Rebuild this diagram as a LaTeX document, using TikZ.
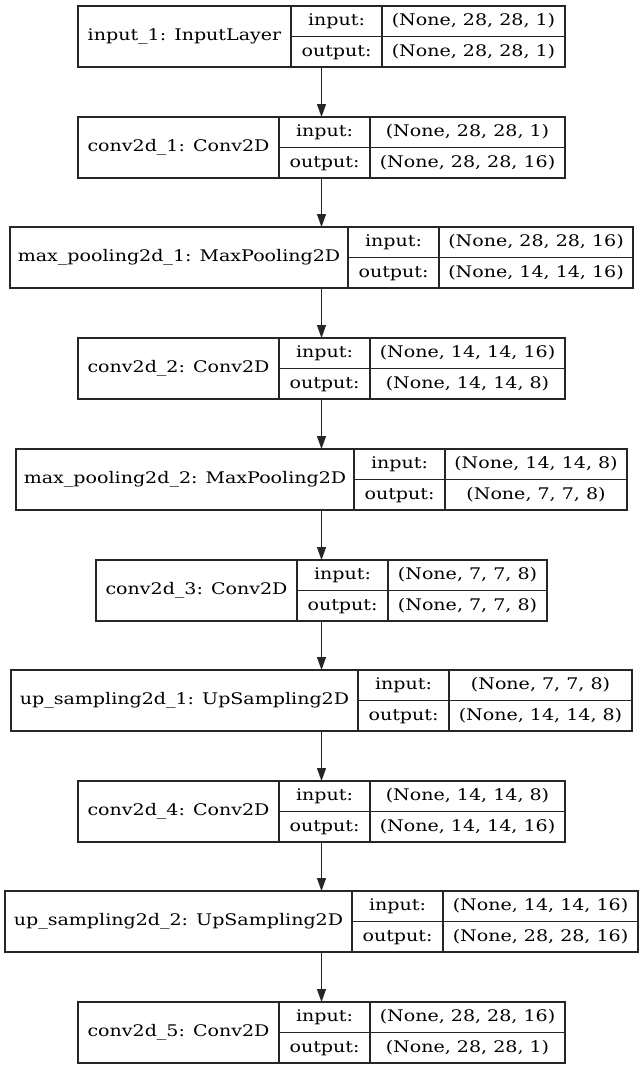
\documentclass[tikz,border=0pt]{standalone}
\usepackage{fontspec}
\setmainfont[FakeStretch=1.19]{DejaVu Serif}
\usetikzlibrary{arrows.meta,calc}
\tikzset{
  cell/.style={draw=black!85, line width=1.1pt, inner sep=0pt, outer sep=0pt,
    anchor=north west, minimum height=30.5pt, text height=12pt, text depth=3.5pt,
    font=\fontsize{16}{19}\selectfont},
  flow/.style={-{Triangle[length=13pt,width=9pt]}, line width=1.1pt, draw=black!85}
}
\begin{document}
\begin{tikzpicture}[x=1pt, y=-1pt]
  \useasboundingbox (0,0) rectangle (643,1069);
  % one table per layer: name | input:/output: | shapes
  \foreach \i/\xl/\xa/\xb/\xr/\yt/\lname/\inshape/\outshape in {
    1/78/291/382/565/6/{input\_1: InputLayer}/{(None, 28, 28, 1)}/{(None, 28, 28, 1)},
    2/78/279/370/565/117/{conv2d\_1: Conv2D}/{(None, 28, 28, 1)}/{(None, 28, 28, 16)},
    3/10/348/439/633/227/{max\_pooling2d\_1: MaxPooling2D}/{(None, 28, 28, 16)}/{(None, 14, 14, 16)},
    4/78/279/370/565/338/{conv2d\_2: Conv2D}/{(None, 14, 14, 16)}/{(None, 14, 14, 8)},
    5/16/354/445/627/449/{max\_pooling2d\_2: MaxPooling2D}/{(None, 14, 14, 8)}/{(None, 7, 7, 8)},
    6/96/297/388/547/560/{conv2d\_3: Conv2D}/{(None, 7, 7, 8)}/{(None, 7, 7, 8)},
    7/11/358/449/632/670/{up\_sampling2d\_1: UpSampling2D}/{(None, 7, 7, 8)}/{(None, 14, 14, 8)},
    8/78/279/370/565/781/{conv2d\_4: Conv2D}/{(None, 14, 14, 8)}/{(None, 14, 14, 16)},
    9/5/352/443/638/891/{up\_sampling2d\_2: UpSampling2D}/{(None, 14, 14, 16)}/{(None, 28, 28, 16)},
    10/78/279/370/565/1002/{conv2d\_5: Conv2D}/{(None, 28, 28, 16)}/{(None, 28, 28, 1)}
  }{
    \node[cell, minimum width={(\xa-\xl)*1pt}, minimum height=61pt] (N\i) at (\xl,\yt) {\lname};
    \node[cell, minimum width={(\xb-\xa)*1pt}] (I\i) at (N\i.north east) {input:};
    \node[cell, minimum width={(\xb-\xa)*1pt}] (O\i) at (I\i.south west) {output:};
    \node[cell, minimum width={(\xr-\xb)*1pt}] (IV\i) at (I\i.north east) {\inshape};
    \node[cell, minimum width={(\xr-\xb)*1pt}] (OV\i) at (IV\i.south west) {\outshape};
  }
  \foreach \i [evaluate=\i as \j using int(\i+1)] in {1,...,9}
    \draw[flow] ($(N\i.south west)!0.5!(OV\i.south east)$) -- ($(N\j.north west)!0.5!(IV\j.north east)$);
\end{tikzpicture}
\end{document}
